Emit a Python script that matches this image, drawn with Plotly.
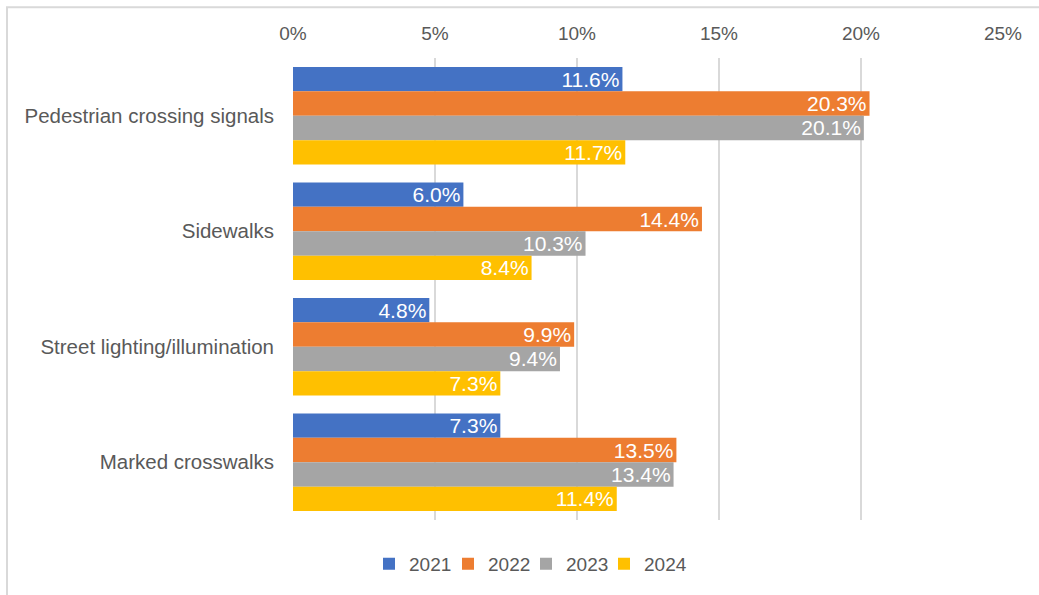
import plotly.graph_objects as go

categories = ["Pedestrian crossing signals", "Sidewalks", "Street lighting/illumination", "Marked crosswalks"]
years = ["2021", "2022", "2023", "2024"]
values_2021 = [11.6, 6.0, 4.8, 7.3]
values_2022 = [20.3, 14.4, 9.9, 13.5]
values_2023 = [20.1, 10.3, 9.4, 13.4]
values_2024 = [11.7, 8.4, 7.3, 11.4]
colors = ["#4472C4", "#ED7D31", "#A5A5A5", "#FFC000"]
tick_vals = [0, 5, 10, 15, 20, 25]
tick_text = ["0%", "5%", "10%", "15%", "20%", "25%"]

series = [values_2021, values_2022, values_2023, values_2024]
FONT = "Liberation Sans, Arial"

W, H = 1039, 595
ml, mr, mt, mb = 293, 36, 58, 73
pw, ph = W - ml - mr, H - mt - mb

def px_x(p):
    return (p - ml) / pw

def px_y(p):
    return (H - mb - p) / ph

# one legend box per year so the entries sit at fixed spacing
legend_ids = ["legend", "legend2", "legend3", "legend4"]
legend_left = [369, 448, 526, 604]

fig = go.Figure()
for name, vals, col, lid in zip(years, series, colors, legend_ids):
    fig.add_trace(go.Bar(
        name=name,
        y=categories,
        x=vals,
        orientation="h",
        marker=dict(color=col, line=dict(width=0)),
        text=[f"{v:.1f}%" for v in vals],
        textposition="inside",
        insidetextanchor="end",
        textangle=0,
        textfont=dict(color="white", size=21, family=FONT),
        hoverinfo="skip",
        legend=lid,
    ))

legend_cfg = {}
for lid, left in zip(legend_ids, legend_left):
    legend_cfg[lid] = dict(
        orientation="h",
        x=px_x(left), xanchor="left",
        y=px_y(566), yanchor="middle",
        font=dict(size=19, color="#595959"),
        itemwidth=30,
        bgcolor="rgba(0,0,0,0)",
    )

fig.update_layout(
    width=W, height=H,
    margin=dict(l=ml, r=mr, t=mt, b=mb, pad=0),
    barmode="group",
    bargap=0.155,
    bargroupgap=0,
    plot_bgcolor="white",
    paper_bgcolor="white",
    font=dict(family=FONT, size=19, color="#595959"),
    showlegend=True,
    uniformtext=dict(minsize=19, mode="show"),
    xaxis=dict(
        side="top",
        range=[0, 25],
        tickvals=tick_vals,
        ticktext=tick_text,
        showgrid=True,
        gridcolor="#D9D9D9",
        gridwidth=1.5,
        zeroline=False,
        showline=False,
        ticks="",
        ticklabelstandoff=13,
        tickfont=dict(size=19, color="#595959"),
        fixedrange=True,
    ),
    yaxis=dict(
        autorange="reversed",
        showgrid=False,
        showline=False,
        ticks="",
        ticklabelstandoff=18,
        tickfont=dict(size=20.5, color="#595959"),
    ),
    shapes=[
        dict(type="rect", xref="paper", yref="paper",
             x0=px_x(7), x1=px_x(1080), y0=px_y(640), y1=px_y(7),
             line=dict(color="#D9D9D9", width=2), fillcolor="rgba(0,0,0,0)",
             layer="below"),
    ],
    **legend_cfg,
)

fig.write_html("out.html")
